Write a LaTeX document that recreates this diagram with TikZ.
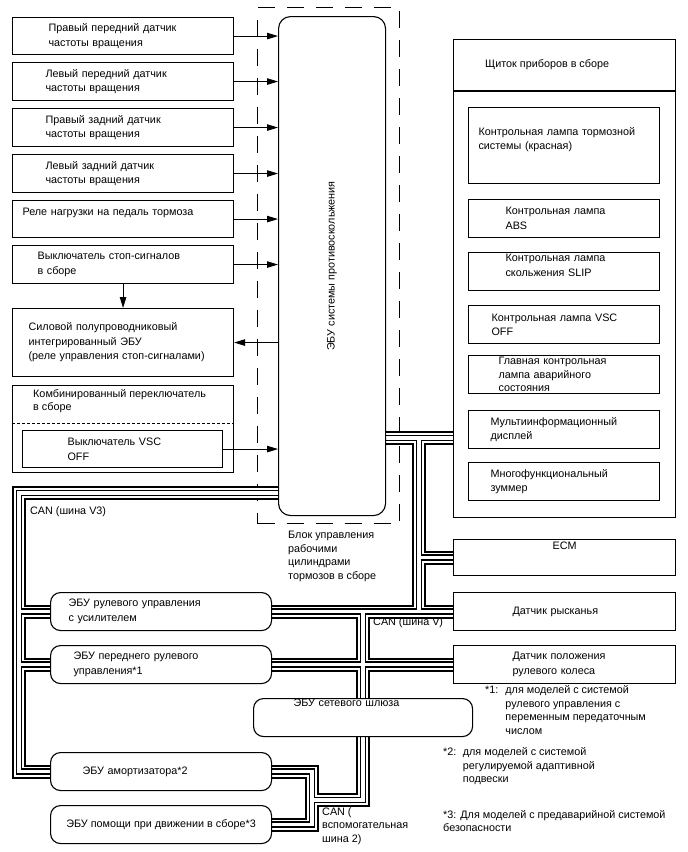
\documentclass[tikz,border=0pt]{standalone}
\usepackage{fontspec}
\setmainfont{Liberation Sans}
\usetikzlibrary{arrows.meta,backgrounds}

\tikzset{
  box/.style={draw, line width=1.1pt, fill=white, anchor=north west, inner sep=0pt, align=left, minimum height=38},
  rbox/.style={box, rounded corners=10pt},
  txt/.style={anchor=north west, inner sep=0pt, align=left},
  tight/.style={font=\fontsize{10.8}{13.5}\selectfont},
  arr/.style={line width=0.9pt, -{Triangle[length=11pt,width=6.5pt]}},
  frame/.style={draw, dash pattern=on 17pt off 12pt, line width=1.2pt, anchor=north west, inner sep=0pt},
}
% twisted pair: four passes so that joints merge
\newcommand{\canbus}[1]{%
  \draw[line width=14pt] #1;
  \draw[line width=10pt,white] #1;
  \draw[line width=6.5pt] #1;
  \draw[line width=3.5pt,white] #1;}

\begin{document}
\begin{tikzpicture}[x=1pt,y=-1pt,font=\fontsize{10.8}{14.5}\selectfont]
\useasboundingbox (0,0) rectangle (688,852);
% inputs on the left
\node[box, minimum width=221, minimum height=37, text width=149] (rfs) at (12,17) {Правый передний датчик\\частоты вращения};
\node[box, minimum width=221, text width=155] (lfs) at (12,62) {Левый передний датчик\\частоты вращения};
\node[box, minimum width=221, text width=155] (rrs) at (12,108) {Правый задний датчик\\частоты вращения};
\node[box, minimum width=221, text width=155] (lrs) at (12,154) {Левый задний датчик\\частоты вращения};
\node[box, minimum width=221, minimum height=37, text width=201] (relay) at (12,200) {Реле нагрузки на педаль тормоза\\\mbox{}};
\node[box, minimum width=221, text width=171] (stop) at (12,245) {Выключатель стоп-сигналов\\в сборе};
\node[box, minimum width=221, minimum height=68, text width=189] (pwr) at (12,308) {Силовой полупроводниковый\\интегрированный ЭБУ\\(реле управления стоп-сигналами)};
\node[box, minimum width=221, minimum height=87] (comb) at (12,385) {};
\node[txt, tight] (combt) at (33,389) {Комбинированный переключатель\\в сборе};
\draw[densely dashed, line width=1pt] (comb.north west) ++(0,38) -- ++(221,0);
\node[box, minimum width=200, minimum height=37, text width=110] (vsc) at (22,430) {Выключатель VSC\\OFF};

% actuator and its ECU
\node[box, rounded corners=12pt, minimum width=107, minimum height=499, align=center] (ecu) at (278,16) {\rotatebox{90}{ЭБУ системы противоскольжения}};
\node[txt, tight] (actt) at (288,531) {Блок управления\\рабочими\\цилиндрами\\тормозов в сборе};

% combination meter
\node[box, minimum width=222, minimum height=478] (meter) at (453,39) {};
\node[txt, anchor=west] (metert) at (485,65) {Щиток приборов в сборе};
\draw[line width=1.1pt] (meter.north west) ++(0,52) -- ++(222,0);
\node[box, minimum width=191, minimum height=76, text width=171] (lbrake) at (468,107) {Контрольная лампа тормозной\\системы (красная)\\\mbox{}};
\node[box, minimum width=191, text width=117] (labs) at (468,199) {Контрольная лампа\\ABS};
\node[box, minimum width=191, text width=117] (lslip) at (468,252) {Контрольная лампа\\скольжения SLIP\\[-1.5pt]\mbox{}};
\node[box, minimum width=191, text width=145] (lvsc) at (468,305) {Контрольная лампа VSC\\OFF};
\node[box, minimum width=191, text width=131, tight] (lmaster) at (468,355) {Главная контрольная\\лампа аварийного\\состояния};
\node[box, minimum width=191, text width=147] (mid) at (468,410) {Мультиинформационный\\дисплей};
\node[box, minimum width=191, text width=147] (buzz) at (468,462) {Многофункциональный\\зуммер};

% other units on the bus
\node[box, minimum width=222, minimum height=36, align=center] (ecm) at (453,539) {ECM\\[9.5pt]\mbox{}};
\node[box, minimum width=222, text width=104] (yaw) at (453,592) {Датчик рысканья};
\node[box, minimum width=222, text width=104] (steer) at (453,645) {Датчик положения\\рулевого колеса};
\node[rbox, minimum width=221, text width=185] (eps) at (50,592) {ЭБУ рулевого управления\\с усилителем};
\node[rbox, minimum width=221, text width=175] (vgrs) at (50,645) {ЭБУ переднего рулевого\\управления*1};
\node[rbox, minimum width=219, text width=139] (gw) at (253,698) {ЭБУ сетевого шлюза\\[15.5pt]\mbox{}};
\node[rbox, minimum width=221, text width=157] (shock) at (50,752) {ЭБУ амортизатора*2};
\node[rbox, minimum width=221, align=center] (drv) at (50,805) {ЭБУ помощи при движении в сборе*3};

% bus names and notes
\node[txt] (canv3) at (30,506) {CAN (шина V3)};
\node[txt] (canv) at (373,617) {CAN (шина V)};
\node[txt, tight] (canaux) at (322,807) {CAN (\\вспомогательная\\шина 2)};
\node[txt, tight] (fn1) at (485,684) {\begin{tabular}{@{}l@{\hspace{7pt}}l@{}}*1: & для моделей с системой\\ & рулевого управления с\\ & переменным передаточным\\ & числом\end{tabular}};
\node[txt, tight] (fn2) at (443,746) {\begin{tabular}{@{}l@{\hspace{6.5pt}}l@{}}*2: & для моделей с системой\\ & регулируемой адаптивной\\ & подвески\end{tabular}};
\node[txt, tight] (fn3) at (443,810) {*3: Для моделей с предаварийной системой\\безопасности};

% signal lines
\foreach \n in {rfs,lfs,rrs,lrs,relay,stop,vsc}
  \draw[arr] (\n.east) -- (\n.east -| ecu.west);
\draw[arr] (ecu.west |- pwr.east) -- (pwr.east);
\draw[arr] (stop.south) -- (pwr.north);

\begin{pgfonlayer}{background}
\node[frame, minimum width=142, minimum height=516] (act) at (257,7) {};
% CAN V3
\coordinate (v3) at (19,493);
\canbus{(ecu.west |- v3) -- (v3) -- (v3 |- shock.west) -- (shock.west)
  (v3 |- eps.west) -- (eps.west) (v3 |- vgrs.west) -- (vgrs.west)}
% CAN V
\coordinate (vtrunk) at (419,438);
\canbus{(ecu.east |- vtrunk) -- (meter.west |- vtrunk)
  (vtrunk) -- (vtrunk |- yaw.west) (vtrunk |- ecm.west) -- (ecm.west)
  (eps.east) -- (yaw.west) (vgrs.east) -- (steer.west)
  (gw.north) -- (gw.north |- eps.east)}
% CAN sub bus 2
\coordinate (aux) at (312,800);
\canbus{(shock.east) -- (aux |- shock.east) -- (aux |- drv.east) -- (drv.east)
  (aux) -- (gw.south |- aux) -- (gw.south)}
\end{pgfonlayer}
\end{tikzpicture}
\end{document}
